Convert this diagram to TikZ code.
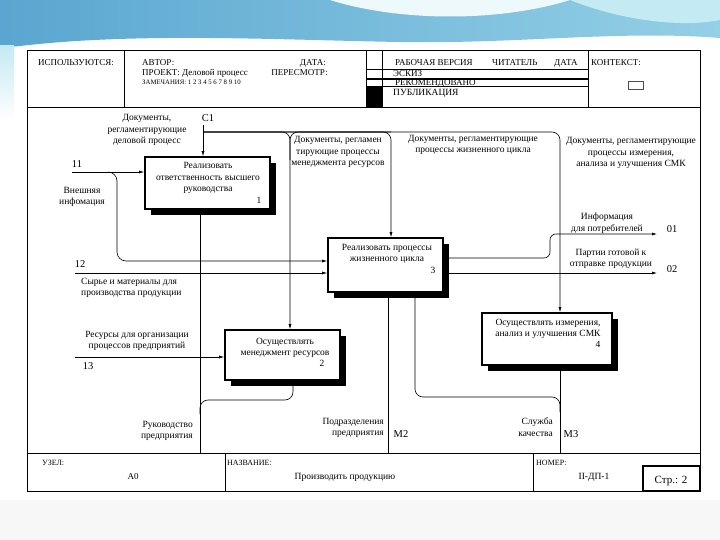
\documentclass[tikz,border=0pt]{standalone}
\usepackage{fontspec}
\setmainfont{Liberation Serif}
\usetikzlibrary{arrows.meta,shadows}
\definecolor{bandA}{HTML}{5AA6D0}
\definecolor{bandB}{HTML}{94D0E6}
\definecolor{bandC}{HTML}{C4EAF3}
\begin{document}
\begin{tikzpicture}[x=1pt,y=-1pt,
  lbl/.style={font=\fontsize{9.5}{11.5}\selectfont, inner sep=0pt, align=center},
  hdr/.style={font=\fontsize{9}{10}\selectfont, inner sep=0pt},
  num/.style={font=\fontsize{9.5}{11}\selectfont, inner sep=0pt},
  pbox/.style={draw, line width=1.6pt, fill=white, inner sep=0pt,
    general shadow={fill=black, shadow xshift=6pt, shadow yshift=-6pt}},
  arr/.style={line width=0.6pt, -{Latex[length=5pt,width=3pt]}},
  ln/.style={line width=0.6pt},
  frm/.style={line width=1pt}]
\useasboundingbox (0,0) rectangle (720,540);
% ---------- slide background ----------
\fill[white] (0,0) rectangle (720,540);
\fill[black!3] (0,500) rectangle (720,540);
\shade[left color=bandA, right color=bandB] (0,0) -- (720,0) -- (720,38)
  .. controls (620,30) and (520,44) .. (400,42)
  .. controls (280,40) and (140,32) .. (20,46) -- (0,48) -- cycle;
\fill[white!70!bandC] (330,0) .. controls (400,22) and (500,22) .. (570,0) -- cycle;
\fill[bandC] (570,0) -- (720,0) -- (720,20) .. controls (680,28) and (620,20) .. (570,0) -- cycle;
\shade[top color=bandC, bottom color=white] (0,46) rectangle (14,120);
% ---------- frame ----------
\draw[frm] (27,51) rectangle (700,491);
\draw[frm] (27,108) -- (700,108);
\draw[frm] (27,453) -- (700,453);
\draw (124,51) -- (124,108);
\draw (366,51) -- (366,108);
\draw (382,51) -- (382,108);
\draw (588,51) -- (588,108);
\draw (366,69) -- (588,69);
\draw[line width=1.4pt] (366,79) -- (588,79);
\draw (366,86) -- (588,86);
\fill (366,86) rectangle (382,108);
\draw[black!70] (628,81) rectangle (643,89);
\draw (225,453) -- (225,491);
\draw (533,453) -- (533,491);
\draw[line width=1.2pt] (643,466) rectangle (700,491);
% ---------- header text ----------
\node[hdr, anchor=base west] (h1) at (38,66) {ИСПОЛЬЗУЮТСЯ:};
\node[hdr, anchor=base west] (h2) at (142,66) {АВТОР:};
\node[hdr, anchor=base east] (h3) at (326,66) {ДАТА:};
\node[hdr, anchor=base west] (h4) at (142,76) {ПРОЕКТ: Деловой процесс};
\node[hdr, anchor=base east] (h5) at (328,76) {ПЕРЕСМОТР:};
\node[hdr, font=\fontsize{6.8}{8}\selectfont, anchor=base west] (h6) at (142,85) {ЗАМЕЧАНИЯ: 1 2 3 4 5 6 7 8 9 10};
\node[hdr, anchor=base west] (h7) at (395,66) {РАБОЧАЯ ВЕРСИЯ};
\node[hdr, anchor=base west] (h8) at (492,66) {ЧИТАТЕЛЬ};
\node[hdr, anchor=base west] (h9) at (554,66) {ДАТА};
\node[hdr, anchor=base west] (h10) at (591,66) {КОНТЕКСТ:};
\node[hdr, anchor=base west] (h11) at (393,77) {ЭСКИЗ};
\node[hdr, anchor=base west] (h12) at (395,85.5) {РЕКОМЕНДОВАНО};
\node[hdr, font=\fontsize{9.5}{10}\selectfont, anchor=base west] (h13) at (393,96) {ПУБЛИКАЦИЯ};
% ---------- footer text ----------
\node[hdr, font=\fontsize{8}{9}\selectfont, anchor=base west] (f1) at (42,465) {УЗЕЛ:};
\node[hdr, anchor=base] (f2) at (133,479) {А0};
\node[hdr, font=\fontsize{8}{9}\selectfont, anchor=base west] (f3) at (227,465) {НАЗВАНИЕ:};
\node[hdr, font=\fontsize{9.5}{10}\selectfont, anchor=base] (f4) at (345,479) {Производить продукцию};
\node[hdr, font=\fontsize{8}{9}\selectfont, anchor=base west] (f5) at (536,465) {НОМЕР:};
\node[hdr, font=\fontsize{9.5}{10}\selectfont, anchor=base] (f6) at (594,479) {II-ДП-1};
\node[hdr, font=\fontsize{11}{12}\selectfont, anchor=base] (f7) at (671,483) {Стр.: 2};
% ---------- activity boxes ----------
\node[pbox, minimum width=125pt, minimum height=52pt] (b1) at (207.5,183) {};
\node[pbox, minimum width=115pt, minimum height=50pt] (b2) at (282.5,355) {};
\node[pbox, minimum width=115pt, minimum height=54pt] (b3) at (385.5,265) {};
\node[pbox, minimum width=130pt, minimum height=52pt] (b4) at (547,339) {};
\node[lbl] (t1) at (208,178) {Реализовать\\ответственность высшего\\руководства};
\node[num] (n1) at (259,200) {1};
\node[lbl] (t2) at (285,348) {Осуществлять\\менеджмент ресурсов};
\node[num] (n2) at (322,363) {2};
\node[lbl] (t3) at (387,254) {Реализовать процессы\\жизненного цикла};
\node[num] (n3) at (433,270) {3};
\node[lbl] (t4) at (548,329) {Осуществлять измерения,\\анализ и улучшения СМК};
\node[num] (n4) at (598,344) {4};
% ---------- coordinates ----------
\coordinate (c1) at (203,125);
\coordinate (cb) at (203,132);
\coordinate (x290) at (290,132);
\coordinate (x391) at (391,132);
\coordinate (x560) at (560,132);
\coordinate (i1) at (72,172);
\coordinate (i1b) at (108,172);
\coordinate (y261) at (0,261);
\coordinate (i2) at (75,273);
\coordinate (i3) at (75,357);
\coordinate (o1s) at (0,258);
\coordinate (o1) at (657,234);
\coordinate (o2) at (657,273);
\coordinate (m1) at (200,453);
\coordinate (m1b) at (200,414);
\coordinate (x293) at (293,400);
\coordinate (m2) at (388,453);
\coordinate (m3) at (560,453);
\coordinate (m3b) at (560,412);
\coordinate (x415) at (415,397);
% ---------- controls ----------
\draw[arr] (c1) -- (c1 |- b1.north);
\draw[arr, rounded corners=8pt] (cb) -| (x290 |- b2.north);
\draw[ln, rounded corners=8pt] (x391) -| (290,160);
\draw[arr, rounded corners=8pt] (cb) -| (x391 |- b3.north);
\draw[arr, rounded corners=8pt] (cb) -| (x560 |- b4.north);
% ---------- inputs ----------
\draw[arr] (i1) -- (i1 -| b1.west);
\draw[arr, rounded corners=9pt] (i1b) -| (117,261) -- (b3.west |- y261);
\draw[arr] (i2) -- (i2 -| b3.west);
\draw[arr] (i3) -- (i3 -| b2.west);
% ---------- outputs ----------
\draw[arr, rounded corners=6pt] (b3.east |- o1s) -| (550,234) -- (o1);
\draw[arr] (b3.east |- o2) -- (o2);
% ---------- mechanisms ----------
\draw[arr] (m1) -- (m1 |- b1.south);
\draw[arr, rounded corners=8pt] (m1b) |- (x293) -- (x293 |- b2.south);
\draw[arr] (m2) -- (m2 |- b3.south);
\draw[arr] (m3) -- (m3 |- b4.south);
\draw[arr, rounded corners=8pt] (m3b) |- (x415) -- (x415 |- b3.south);
% ---------- arrow labels ----------
\node[lbl, font=\fontsize{10.5}{11}\selectfont] (lc1) at (208,118) {C1};
\node[lbl] (l1) at (147,130) {Документы,\\регламентирующие\\деловой процесс};
\node[lbl] (l2) at (338,152) {Документы, регламен\\тирующие процессы\\менеджмента ресурсов};
\node[lbl] (l3) at (473,145) {Документы, регламентирующие\\процессы жизненного цикла};
\node[lbl] (l4) at (631,153) {Документы, регламентирующие\\процессы измерения,\\анализа и улучшения СМК};
\node[lbl, font=\fontsize{10.5}{11}\selectfont] (li1) at (77,164) {11};
\node[lbl] (l5) at (82,197) {Внешняя\\инфомация};
\node[lbl, font=\fontsize{10.5}{11}\selectfont] (li2) at (80,264) {12};
\node[lbl, align=left, anchor=north west] (l6) at (81,278) {Сырье и материалы для\\производства продукции};
\node[lbl, font=\fontsize{10.5}{11}\selectfont] (li3) at (88,366) {13};
\node[lbl] (l7) at (137,341) {Ресурсы для организации\\процессов предприятий};
\node[lbl] (l8) at (607,223) {Информация\\для потребителей};
\node[lbl, font=\fontsize{10.5}{11}\selectfont] (lo1) at (672,229) {01};
\node[lbl] (l9) at (611,259) {Партии готовой к\\отправке продукции};
\node[lbl, font=\fontsize{10.5}{11}\selectfont] (lo2) at (672,269) {02};
\node[lbl, align=right, anchor=east] (l10) at (193,431) {Руководство\\предприятия};
\node[lbl, align=right, anchor=east] (l11) at (384,428) {Подразделения\\предприятия};
\node[lbl, font=\fontsize{10.5}{11}\selectfont] (lm2) at (401,434) {M2};
\node[lbl, align=right, anchor=east] (l12) at (553,427) {Служба\\качества};
\node[lbl, font=\fontsize{10.5}{11}\selectfont] (lm3) at (571,434) {M3};
\end{tikzpicture}
\end{document}
